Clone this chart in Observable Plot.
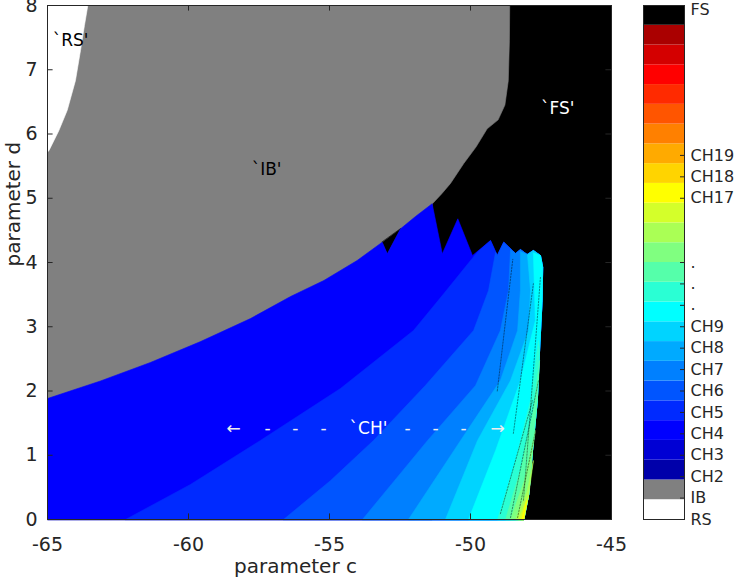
<!DOCTYPE html>
<html><head><meta charset="utf-8">
<script src="https://cdn.jsdelivr.net/npm/d3@7"></script>
<script src="https://cdn.jsdelivr.net/npm/@observablehq/plot@0.6"></script>
<style>
body{margin:0;background:#fff;}
#chart{display:flex;width:737px;height:584px;}
#chart svg{overflow:visible;}
</style></head><body><div id="chart"></div>
<script>
// ---------- axis ticks ----------
const xTicks = [-65, -60, -55, -50, -45];
const yTicks = [0, 1, 2, 3, 4, 5, 6, 7, 8];

// ---------- region boundaries, in (c, d) ----------
// white `RS' region (upper left corner)
const rsBoundary = [[-65, 5.72], [-64.95, 5.74], [-64.60, 6.05], [-64.30, 6.37], [-64.01, 6.83], [-63.83, 7.30], [-63.69, 7.69], [-63.57, 8.0], [-65, 8.0]];
// edge between grey `IB' and black `FS' (top to bottom)
const fsBoundary = [[-48.61, 8.0], [-48.62, 7.45], [-48.66, 6.83], [-48.78, 6.45], [-49.02, 6.22], [-49.41, 6.08], [-49.80, 5.80], [-50.24, 5.54], [-50.71, 5.23], [-51.02, 5.07], [-51.36, 4.91]];
// upper edge of the `CH' region, left to right (incl. black teeth)
const chTop = [[-65, 1.883], [-63.12, 2.156], [-61.35, 2.444], [-59.57, 2.770], [-57.80, 3.128], [-56.38, 3.471], [-55.20, 3.720], [-54.02, 4.031], [-53.13, 4.316], [-52.95, 4.135], [-52.48, 4.525], [-51.95, 4.716], [-51.36, 4.914], [-51.00, 4.135], [-50.45, 4.680], [-49.93, 4.109], [-49.29, 4.342], [-49.05, 4.109], [-48.82, 4.316], [-48.40, 4.140], [-48.23, 4.202], [-47.99, 4.125], [-47.77, 4.187], [-47.52, 4.109]];
// right edge of the `CH' region, top to bottom
const chRight = [[-47.44, 3.927], [-47.46, 3.409], [-47.55, 2.630], [-47.63, 1.852], [-47.80, 1.074], [-47.93, 0.400], [-48.11, 0]];
// black tooth cut into the grey region
const tooth1 = [[-53.13, 4.316], [-52.95, 4.135], [-52.48, 4.525]];
// boundaries between successive CH bands (bottom to top)
const bands = [
  [[-62.23, 0], [-59.93, 0.545], [-57.45, 1.230], [-54.61, 2.039], [-52.02, 2.942], [-50.95, 3.513], [-49.76, 4.16]],
  [[-56.63, 0], [-54.96, 0.607], [-53.44, 1.230], [-51.60, 2.086], [-49.89, 2.942], [-49.36, 3.564], [-49.11, 4.16]],
  [[-53.83, 0], [-51.52, 1.230], [-49.82, 2.086], [-48.94, 2.942], [-48.65, 3.564], [-48.58, 4.20]],
  [[-52.20, 0], [-50.35, 1.230], [-48.94, 2.163], [-48.33, 2.942], [-48.23, 3.564], [-48.23, 4.17]],
  [[-50.89, 0], [-49.75, 1.230], [-48.58, 2.163], [-47.94, 2.942], [-47.87, 3.564], [-47.98, 4.12]],
  [[-50.07, 0], [-49.11, 1.074], [-48.23, 2.163], [-47.70, 3.097], [-47.77, 4.15]],
  [[-49.04, 0], [-48.40, 0.918], [-47.87, 1.852], [-47.59, 2.786]],
  [[-48.76, 0], [-48.23, 0.763], [-47.77, 1.697], [-47.55, 2.475]],
  [[-48.58, 0], [-48.09, 0.607], [-47.70, 1.385]],
  [[-48.40, 0], [-47.98, 0.451], [-47.77, 0.918]],
  [[-48.30, 0], [-47.94, 0.374]],
  [[-48.19, 0], [-48.01, 0.296]]
];
// dark speckled streaks near the CH/FS edge
const streaks = [
  [[-48.58, 0.03], [-47.59, 2.16]],
  [[-48.94, 0.09], [-47.80, 1.85]],
  [[-48.33, 0.03], [-47.62, 1.54]],
  [[-48.12, 0.30], [-47.52, 3.77]],
  [[-48.48, 1.34], [-47.77, 3.67]],
  [[-49.05, 2.00], [-48.50, 4.05]]
];

// ---------- colours (MATLAB jet(23) + grey/white/black) ----------
const jet = ["#0000AA", "#0000D4", "#0000FF", "#002AFF", "#0055FF", "#0080FF", "#00AAFF", "#00D4FF", "#00FFFF", "#2AFFD4", "#55FFAA", "#80FF80", "#AAFF55", "#D4FF2A", "#FFFF00", "#FFD400", "#FFAA00", "#FF8000", "#FF5500", "#FF2A00", "#FF0000", "#D40000", "#AA0000"];
const chColor = jet[2];
const bandColors = jet.slice(3, 15);
const cbColors = ["#FFFFFF", "#808080", ...jet, "#000000"];

// ---------- colour bar ticks ----------
const cbTickValues = [0, 1, 2, 3, 4, 5, 6, 7, 8, 9, 10, 11, 12, 15, 16, 17];
const cbTickLabels = ["RS", "IB", "CH2", "CH3", "CH4", "CH5", "CH6", "CH7", "CH8", "CH9", ".", ".", ".", "CH17", "CH18", "CH19"];
const cbTopLabel = "FS";

// ---------- annotations ----------
const darkLabels = [{c: -64.18, d: 7.46, t: "`RS'"}, {c: -57.23, d: 5.45, t: "`IB'"}];
const lightLabels = [{c: -46.91, d: 6.40, t: "`FS'"}, {c: -53.62, d: 1.416, t: "`CH'"}];
const chArrow = [{c: -58.40, t: "←"}, {c: -57.20, t: "-"}, {c: -56.21, t: "-"}, {c: -55.21, t: "-"}, {c: -52.23, t: "-"}, {c: -51.24, t: "-"}, {c: -50.25, t: "-"}, {c: -49.04, t: "→"}];
const chArrowD = 1.416;

// ---------- build ----------
const FONT = "'DejaVu Sans', 'Liberation Sans', sans-serif";
const AX = "#262626";
const poly = (pts, fill) => Plot.line(pts, {x: p => p[0], y: p => p[1], fill, stroke: fill, strokeWidth: 0.6, curve: "linear-closed"});

const grayPoly = [[-65, 0], [-65, 8], ...fsBoundary, [fsBoundary[fsBoundary.length - 1][0], 0]];
const chPoly = [[-65, 0], ...chTop, ...chRight];
function bandPolygon(b) {
  const end = b[b.length - 1];
  const tail = end[1] >= 4.0
    ? [...chTop.filter(p => p[0] > end[0]), ...chRight]
    : chRight.filter(p => p[1] < end[1]);
  return [...b, ...tail];
}
const streakRows = streaks.flatMap((s, i) => s.map(p => ({c: p[0], d: p[1], k: i})));

const W = 620, H = 584, ML = 47, MR = 9, MT = 5, MB = 65;
const fw = W - ML - MR, fh = H - MT - MB, TL = 5.6;
const fmt = v => String(v);

const main = Plot.plot({
  width: W, height: H, marginLeft: ML, marginRight: MR, marginTop: MT, marginBottom: MB,
  x: {domain: [-65, -45]}, y: {domain: [0, 8]},
  style: {fontFamily: FONT, fontSize: "19px", color: AX, background: "white"},
  marks: [
    Plot.frame({fill: "black"}),
    poly(grayPoly, "#808080"),
    poly(tooth1, "#000000"),
    poly(chPoly, chColor),
    ...bands.map((b, i) => poly(bandPolygon(b), bandColors[i])),
    Plot.line(streakRows, {x: "c", y: "d", z: "k", stroke: "#000", strokeWidth: 0.8, strokeOpacity: 0.55, strokeDasharray: "1.5,1.5"}),
    poly(rsBoundary, "#FFFFFF"),
    Plot.text(darkLabels, {x: "c", y: "d", text: "t", fill: "black", fontSize: 17}),
    Plot.text(lightLabels, {x: "c", y: "d", text: "t", fill: "white", fontSize: 17}),
    Plot.text(chArrow, {x: "c", y: () => chArrowD, text: "t", fill: "#eeeeee", fontSize: 17}),
    Plot.tickX(xTicks, {x: v => v, insetTop: fh - TL, stroke: AX}),
    Plot.tickX(xTicks, {x: v => v, insetBottom: fh - TL, stroke: AX}),
    Plot.tickY(yTicks, {y: v => v, insetRight: fw - TL, stroke: AX}),
    Plot.tickY(yTicks, {y: v => v, insetLeft: fw - TL, stroke: AX}),
    Plot.axisX(xTicks, {tickSize: 0, tickPadding: 18, label: null, tickFormat: fmt, fill: AX}),
    Plot.axisY(yTicks, {tickSize: 0, tickPadding: 10, label: null, tickFormat: fmt, fill: AX}),
    Plot.text(["parameter c"], {frameAnchor: "bottom", dx: -34, dy: 53, fontSize: 20, fill: AX}),
    Plot.text(["parameter d"], {frameAnchor: "left", dx: -34, dy: 4, rotate: -90, fontSize: 20, fill: AX}),
    Plot.frame({stroke: AX})
  ]
});

const cbSegs = cbColors.map((col, i) => ({y1: i * 24 / cbColors.length, y2: (i + 1) * 24 / cbColors.length, col}));
const cbTicks = cbTickValues.map((v, i) => ({v, label: cbTickLabels[i]}));
const cb = Plot.plot({
  width: 117, height: H, marginLeft: 23, marginRight: 53, marginTop: MT, marginBottom: MB,
  y: {domain: [0, 24], axis: null},
  style: {fontFamily: FONT, fontSize: "16px", color: AX, background: "transparent"},
  marks: [
    Plot.rect(cbSegs, {y1: "y1", y2: "y2", fill: "col"}),
    Plot.tickY(cbTicks, {y: "v", insetLeft: 41 - 4, stroke: AX}),
    Plot.text(cbTicks, {y: "v", text: "label", frameAnchor: "right", dx: 6, textAnchor: "start", fill: AX}),
    Plot.text([cbTopLabel], {frameAnchor: "top-right", lineAnchor: "middle", dx: 6, dy: 4, textAnchor: "start", fill: AX}),
    Plot.frame({stroke: AX})
  ]
});

document.getElementById("chart").append(main, cb);
</script></body></html>
